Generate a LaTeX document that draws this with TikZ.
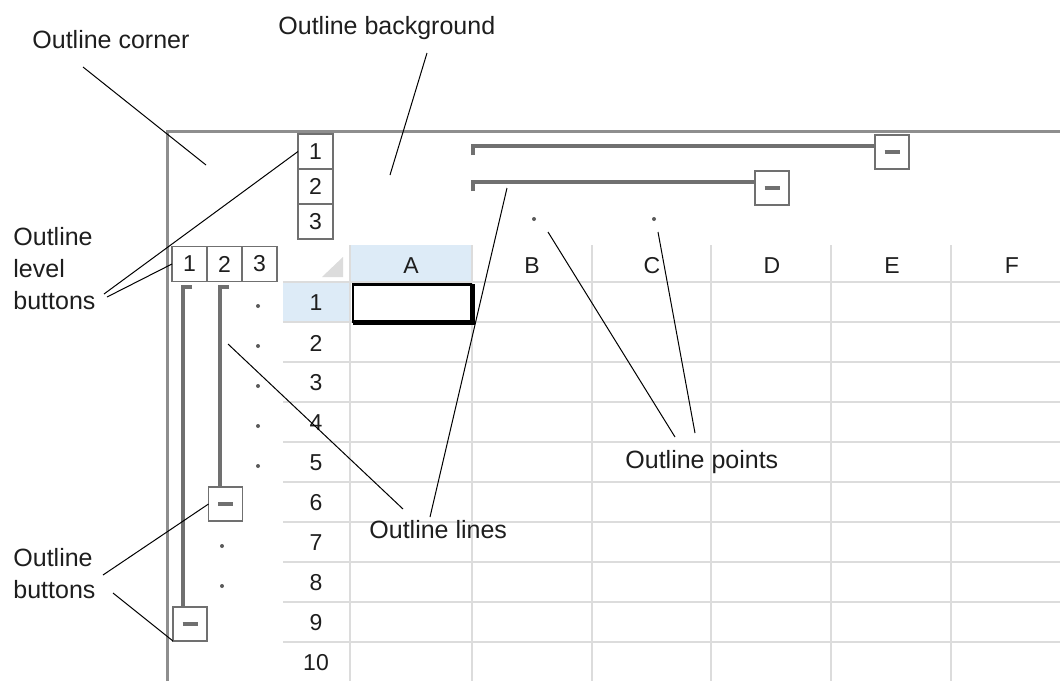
\documentclass[tikz,border=0pt]{standalone}
\usepackage{fontspec}
\setmainfont{Liberation Sans}
\usepackage{xcolor}
\usetikzlibrary{positioning}
\definecolor{ink}{HTML}{1E1E1E}
\definecolor{cellgray}{HTML}{DCDCDC}
\definecolor{framegray}{HTML}{8E8E8E}
\definecolor{olgray}{HTML}{707070}
\definecolor{hdrblue}{HTML}{DDEBF7}
\newcommand{\olminus}{\textcolor{olgray}{\rule{7.5pt}{1.7pt}}}

\begin{document}
\begin{tikzpicture}[
  x=0.5pt, y=-0.5pt,
  font=\fontsize{11.5}{14}\selectfont,
  lbl/.style={font=\fontsize{12.5}{16}\selectfont, text=ink,
              inner sep=0pt, align=left},
  hdr/.style={text=ink, inner sep=0pt},
  lvl/.style={draw=olgray, line width=0.9pt, fill=white,
              minimum size=17.5pt, inner sep=0pt, outer sep=0pt,
              text=ink},
  minbtn/.style={draw=olgray, line width=0.9pt, fill=white,
              minimum size=17pt, inner sep=0pt, outer sep=0pt},
  olline/.style={draw=olgray, line width=1.6pt},
  cellline/.style={draw=cellgray, line width=0.9pt},
  lead/.style={draw=black, line width=0.5pt},
  olpt/.style={circle, fill=olgray!80!black, inner sep=0pt, minimum size=2pt}
]
\useasboundingbox (0,0) rectangle (1060,681);
\fill[white] (0,0) rectangle (1060,681);
% Header highlights
\fill[hdrblue] (351,245) rectangle (472,283);
\fill[hdrblue] (283,283) rectangle (350,322);
% Select-all corner
\fill[cellgray] (322,277) -- (343,257) -- (343,277) -- cycle;
% Cell grid
\foreach \yy in {282,322,...,642}
  \draw[cellline] (283,\yy) -- (1060,\yy);
\foreach \xx in {350,472,592,711,831,951}
  \draw[cellline] (\xx,245) -- (\xx,681);
% Column headers
\foreach \cc/\xx in {A/411,B/532,C/652,D/772,E/892,F/1012}
  \node[hdr] (col\cc) at (\xx,266) {\cc};
% Row headers
\foreach \rr in {1,...,10}
  \node[hdr] (row\rr) at (316,{262+40*\rr+1}) {\rr};
% Active cell A1
\draw[black, line width=1.2pt] (353,284.5) rectangle (471,322);
\draw[black, line width=2.8pt] (353,322.5) -- (472.5,322.5) -- (472.5,284);
% Outline frame
\draw[framegray, line width=1.5pt] (167,681) -- (167,131) -- (1060,131);
% Column outline
\draw[olline] (473,155) -- (473,146) -- (875,146);
\draw[olline] (473,191) -- (473,182) -- (755,182);
\node[minbtn] (colBtn1) at (892,152) {\olminus};
\node[minbtn] (colBtn2) at (772,188) {\olminus};
\node[olpt] (colPtB) at (534,219) {};
\node[olpt] (colPtC) at (654,219) {};
% Row outline
\draw[olline] (192,287) -- (183,287) -- (183,607);
\draw[olline] (229,287) -- (220,287) -- (220,487);
\node[minbtn] (rowBtn6) at (225.5,504) {\olminus};
\node[minbtn] (rowBtn9) at (190,624) {\olminus};
\foreach \rr in {1,...,5}
  \node[olpt] (rowPt\rr) at (258,{266+40*\rr}) {};
\node[olpt] (rowPt7) at (222,546) {};
\node[olpt] (rowPt8) at (222,586) {};
% Level buttons
\node[lvl] (colLvl1) at (315.5,151.5) {1};
\node[lvl, below=0pt of colLvl1] (colLvl2) {2};
\node[lvl, below=0pt of colLvl2] (colLvl3) {3};
\node[lvl] (rowLvl1) at (189.5,264) {1};
\node[lvl, right=0pt of rowLvl1] (rowLvl2) {2};
\node[lvl, right=0pt of rowLvl2] (rowLvl3) {3};
% Labels
\node[lbl, anchor=base west] (cornerLbl) at (32,48) {Outline corner};
\node[lbl, anchor=base west] (bgLbl) at (278,34) {Outline background};
\node[lbl, anchor=north west] (lvlLbl) at (13,227) {Outline\\level\\buttons};
\node[lbl, anchor=north west] (btnLbl) at (13,548) {Outline\\buttons};
\node[lbl, anchor=base west] (lineLbl) at (369,538) {Outline lines};
\node[lbl, anchor=base west] (ptLbl) at (625,468) {Outline points};
% Leader lines
\coordinate (cornerA) at (83,67);
\coordinate (cornerB) at (206,165);
\coordinate (bgA) at (427,53);
\coordinate (bgB) at (390,175);
\coordinate (lvlA) at (104,294);
\coordinate (lvlB) at (107,297);
\coordinate (btnA) at (103,575);
\coordinate (btnB) at (113,593);
\coordinate (lineA) at (228,344);
\coordinate (lineB) at (403,509);
\coordinate (lineC) at (507,188);
\coordinate (lineD) at (430,517);
\coordinate (ptA) at (548,232);
\coordinate (ptB) at (675,437);
\coordinate (ptC) at (658,232);
\coordinate (ptD) at (695,433);
\draw[lead] (cornerA) -- (cornerB);
\draw[lead] (bgA) -- (bgB);
\draw[lead] (lvlA) -- (colLvl1.west);
\draw[lead] (lvlB) -- (rowLvl1.west);
\draw[lead] (btnA) -- (rowBtn6.west);
\draw[lead] (btnB) -- (rowBtn9.south west);
\draw[lead] (lineA) -- (lineB);
\draw[lead] (lineC) -- (lineD);
\draw[lead] (ptA) -- (ptB);
\draw[lead] (ptC) -- (ptD);
\end{tikzpicture}
\end{document}
